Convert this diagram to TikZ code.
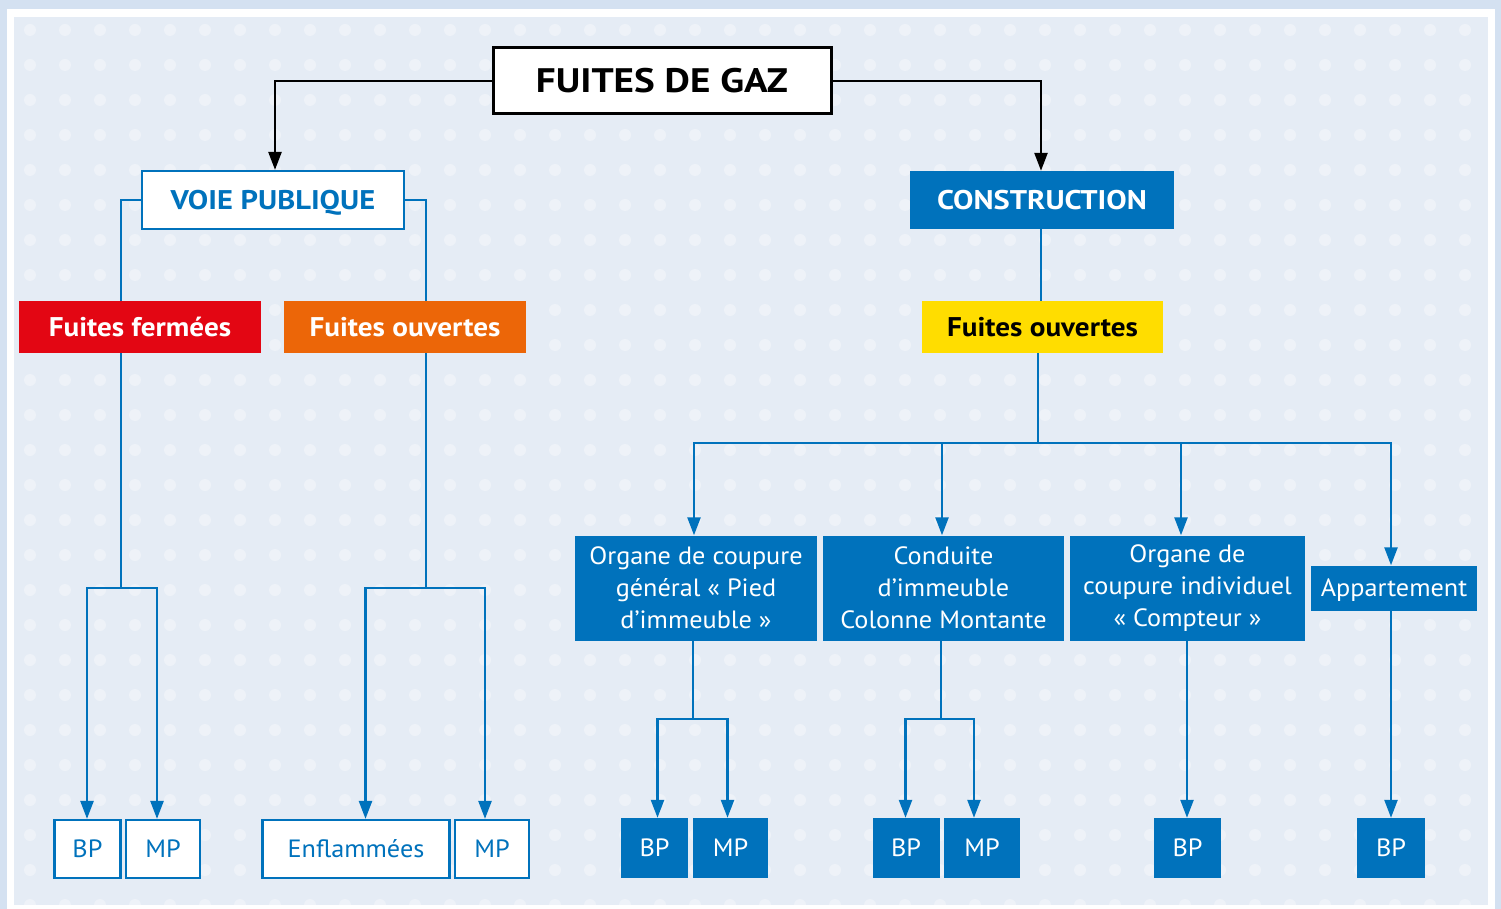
\documentclass[tikz,border=0pt]{standalone}
\usepackage{fontspec}
\setmainfont{PT Sans}
\newfontfamily\regf{PT Sans}[FakeStretch=1.05]
\newfontfamily\capf{PT Sans}[FakeStretch=1.13]
\newfontfamily\lowf{PT Sans}[FakeStretch=1.08]
\newfontfamily\titf{PT Sans}[FakeStretch=1.15]
\usetikzlibrary{arrows.meta}
\definecolor{cblue}{RGB}{0,114,188}
\definecolor{cred}{RGB}{227,6,19}
\definecolor{corange}{RGB}{236,102,8}
\definecolor{cyellow}{RGB}{255,221,0}
\definecolor{outerbg}{RGB}{212,225,241}
\definecolor{panelbg}{RGB}{229,236,245}
\begin{document}
\begin{tikzpicture}[x=1pt,y=-1pt,
  wb/.style={draw=cblue, line width=2.2pt, fill=white, text=cblue, inner sep=0pt, font=\regf\fontsize{25}{30}\selectfont, text height=17.5pt, text depth=0pt},
  bb/.style={fill=cblue, text=white, inner sep=0pt, font=\regf\fontsize{25}{32}\selectfont, align=center},
  one/.style={text height=17.5pt, text depth=0pt},
  hdrc/.style={inner sep=0pt, font=\capf\bfseries\fontsize{27}{30}\selectfont, text height=19pt, text depth=0pt},
  hdrl/.style={inner sep=0pt, font=\lowf\bfseries\fontsize{27}{30}\selectfont, text height=19pt, text depth=0pt},
  conn/.style={draw=cblue, line width=2.5pt},
  arr/.style={conn, -{Triangle[length=18pt,width=13pt]}},
  karr/.style={draw=black, line width=2.5pt, -{Triangle[length=18pt,width=13pt]}}]
\useasboundingbox (0,0) rectangle (1501,909);
% background
\fill[outerbg] (0,0) rectangle (1501,909);
\fill[white] (7,9) rectangle (1495,909);
\fill[panelbg] (14,17) rectangle (1488,905);
\begin{scope}
\clip (14,17) rectangle (1488,905);
\foreach \i in {0,...,42} \foreach \j in {0,...,25}
  \fill[white,opacity=0.35] (30+35*\i, 30+35*\j) circle (6);
\end{scope}
% top
\node[draw=black, line width=3pt, fill=white, inner sep=0pt, minimum width=338pt, minimum height=66pt,
  font=\titf\bfseries\fontsize{34}{36}\selectfont, text height=24pt, text depth=0pt] (main) at (662,81) {FUITES DE GAZ};
\node[draw=cblue, line width=2.2pt, fill=white, hdrc, text=cblue, minimum width=262pt, minimum height=58pt] (voie) at (273,200) {VOIE PUBLIQUE};
\node[fill=cblue, text=white, hdrc, minimum width=264pt, minimum height=58pt] (cons) at (1042,200) {CONSTRUCTION};
\draw[karr] (main.west) -| ([xshift=2pt]voie.north);
\draw[karr] (main.east) -| ([xshift=-1pt]cons.north);
% second level
\node[hdrl, fill=cred, text=white, minimum width=242pt, minimum height=52pt] (ff) at (140,327) {Fuites fermées};
\node[hdrl, fill=corange, text=white, minimum width=242pt, minimum height=52pt] (fo) at (405,327) {Fuites ouvertes};
\node[hdrl, fill=cyellow, text=black, minimum width=241pt, minimum height=52pt] (fy) at (1042.5,327) {Fuites ouvertes};
\draw[conn] (voie.west) -| ([xshift=-19pt]ff.north);
\draw[conn] (voie.east) -| ([xshift=21pt]fo.north);
\draw[conn] ([xshift=-1pt]cons.south) -- ([xshift=-1.5pt]fy.north);
% left bottom
\node[wb, minimum width=66pt, minimum height=58pt] (bp1) at (87.5,849) {BP};
\node[wb, minimum width=74pt, minimum height=58pt] (mp1) at (163,849) {MP};
\node[wb, minimum width=187pt, minimum height=58pt] (enf) at (356,849) {Enflammées};
\node[wb, minimum width=74pt, minimum height=58pt] (mp2) at (492,849) {MP};
\coordinate (j1) at (121,588);
\coordinate (j2) at (426,588);
\draw[conn] ([xshift=-19pt]ff.south) -- (j1);
\draw[arr] (j1) -| ([xshift=-0.5pt]bp1.north);
\draw[arr] (j1) -| ([xshift=-6pt]mp1.north);
\draw[conn] ([xshift=21pt]fo.south) -- (j2);
\draw[arr] (j2) -| ([xshift=9.5pt]enf.north);
\draw[arr] (j2) -| ([xshift=-7pt]mp2.north);
% right third level
\node[bb, minimum width=242pt, minimum height=105pt] (o1) at (696,588) {Organe de coupure\\général «~Pied\\d’immeuble~»};
\node[bb, minimum width=241pt, minimum height=105pt] (o2) at (943.5,588) {Conduite\\d’immeuble\\Colonne Montante};
\node[bb, minimum width=235pt, minimum height=105pt] (o3) at (1187.5,588) {Organe de\\coupure individuel\\«~Compteur~»};
\node[bb, one, minimum width=166pt, minimum height=45pt] (app) at (1394,588) {Appartement};
\coordinate (j3) at (1038,443);
\draw[conn] ([xshift=-4.5pt]fy.south) -- (j3);
\draw[arr] (j3) -| ([xshift=-2pt]o1.north);
\draw[arr] (j3) -| ([xshift=-1.5pt]o2.north);
\draw[arr] (j3) -| ([xshift=-6.5pt]o3.north);
\draw[arr] (j3) -| ([xshift=-3pt]app.north);
% right bottom
\node[bb, one, minimum width=67pt, minimum height=60pt] (bp2) at (654.5,848) {BP};
\node[bb, one, minimum width=75pt, minimum height=60pt] (mp3) at (730.5,848) {MP};
\node[bb, one, minimum width=67pt, minimum height=60pt] (bp3) at (906,848) {BP};
\node[bb, one, minimum width=76pt, minimum height=60pt] (mp4) at (982,848) {MP};
\node[bb, one, minimum width=67pt, minimum height=60pt] (bp4) at (1187.5,848) {BP};
\node[bb, one, minimum width=68pt, minimum height=60pt] (bp5) at (1391,848) {BP};
\coordinate (j4) at (693,719);
\coordinate (j5) at (941,719);
\draw[conn] ([xshift=-3pt]o1.south) -- (j4);
\draw[arr] (j4) -| ([xshift=3pt]bp2.north);
\draw[arr] (j4) -| ([xshift=-3pt]mp3.north);
\draw[conn] ([xshift=-2.5pt]o2.south) -- (j5);
\draw[arr] (j5) -| ([xshift=-0.5pt]bp3.north);
\draw[arr] (j5) -| ([xshift=-8pt]mp4.north);
\draw[arr] ([xshift=-0.5pt]o3.south) -- ([xshift=-0.5pt]bp4.north);
\draw[arr] ([xshift=-3pt]app.south) -- (bp5.north);
\end{tikzpicture}
\end{document}
